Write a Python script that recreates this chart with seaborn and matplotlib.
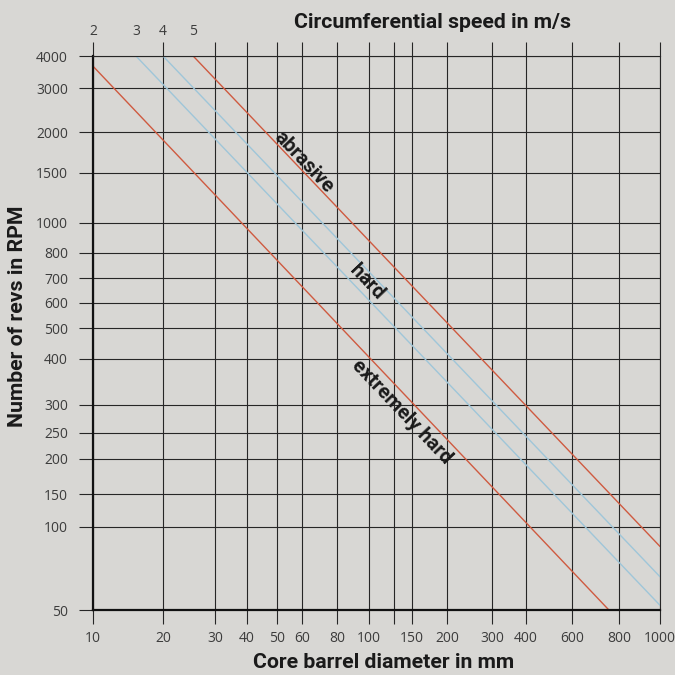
import numpy as np
import pandas as pd
import matplotlib
matplotlib.use('Agg')
import matplotlib.pyplot as plt
import seaborn as sns

# grid values and the printed positions of the grid lines (px in the 675px chart)
x_ticks = [10, 20, 30, 40, 50, 60, 80, 100, 125, 150, 200, 300, 400, 600, 800, 1000]
x_tick_labels = ['10', '20', '30', '40', '50', '60', '80', '100', '', '150', '200',
                 '300', '400', '600', '800', '1000']
x_tick_px = [93, 163, 215, 247, 277, 302, 337, 369, 394, 412, 447, 492, 526, 572, 619, 660]

y_ticks = [50, 100, 150, 200, 250, 300, 400, 500, 600, 700, 800, 1000, 1500, 2000, 3000, 4000]
y_tick_labels = [str(v) for v in y_ticks]
y_tick_px = [610, 527, 494, 459, 433, 405, 359, 328, 303, 278, 253, 223, 173, 132, 88, 56]

# circumferential speed lines (m/s): start and end points
speeds = [2, 3, 4, 5]
d_start = [10, 15.3, 20, 25.3]
rpm_start = [3650, 4000, 4000, 4000]
d_end = [752, 1000, 1000, 1000]
rpm_end = [50, 52, 66, 85]
line_colors = ['#cf5a40', '#9fc6d9', '#9fc6d9', '#cf5a40']

zones = ['abrasive', 'hard', 'extremely hard']

bg = '#d8d7d4'
grid_col = '#262626'


def chart_scale(ticks, pos):
    # piecewise log scale that follows the printed grid
    lt = np.log10(np.asarray(ticks, float))
    pos = np.asarray(pos, float)
    s0 = (pos[1] - pos[0]) / (lt[1] - lt[0])
    s1 = (pos[-1] - pos[-2]) / (lt[-1] - lt[-2])
    lt = np.r_[lt[0] - 10, lt, lt[-1] + 10]
    pos = np.r_[pos[0] - 10 * s0, pos, pos[-1] + 10 * s1]

    def fwd(v):
        return np.interp(np.log10(np.clip(np.asarray(v, float), 1e-9, None)), lt, pos)

    def inv(p):
        return 10 ** np.interp(np.asarray(p, float), pos, lt)
    return fwd, inv


df = pd.DataFrame({
    'diameter': d_start + d_end,
    'rpm': rpm_start + rpm_end,
    'speed': speeds + speeds,
})

sns.set_theme(style='ticks')
plt.rcParams['font.family'] = ['Open Sans', 'DejaVu Sans']

fig = plt.figure(figsize=(6.75, 6.75), dpi=100)
fig.patch.set_facecolor(bg)
ax = fig.add_axes([93 / 675, 65 / 675, 567 / 675, 554 / 675])
ax.set_facecolor(bg)

ax.set_xscale('function', functions=chart_scale(x_ticks, x_tick_px))
ax.set_yscale('function', functions=chart_scale(y_ticks, [610 - p for p in y_tick_px]))

sns.lineplot(data=df, x='diameter', y='rpm', hue='speed', palette=dict(zip(speeds, line_colors)),
             estimator=None, sort=False, legend=False, linewidth=1.0, ax=ax)

ax.set_xlim(10, 1000)
ax.set_ylim(50, 4000)
ax.set_xticks(x_ticks, x_tick_labels)
ax.set_yticks(y_ticks, y_tick_labels)
ax.minorticks_off()
ax.set_axisbelow(True)
ax.grid(True, color=grid_col, linewidth=0.8)

ax.tick_params(axis='x', top=True, bottom=True, labeltop=False, length=10, width=0.8,
               color=grid_col, labelsize=10, labelcolor='#3c3c3c', pad=5)
ax.tick_params(axis='y', left=True, right=False, length=10, width=0.8,
               color=grid_col, labelsize=10, labelcolor='#3c3c3c', pad=8)

for side in ['left', 'bottom']:
    ax.spines[side].set_linewidth(1.6)
    ax.spines[side].set_color('#111111')
for side in ['top', 'right']:
    ax.spines[side].set_linewidth(0.8)
    ax.spines[side].set_color(grid_col)

ax.set_xlabel('')
ax.set_ylabel('')

bold = dict(family=['Roboto', 'DejaVu Sans'], weight='bold', color='#1a1a1a')
fig.text(432 / 675, 1 - 23 / 675, 'Circumferential speed in m/s', ha='center', va='center',
         fontsize=15.3, **bold)
fig.text(384 / 675, 1 - 663 / 675, 'Core barrel diameter in mm', ha='center', va='center',
         fontsize=15.3, **bold)
fig.text(18 / 675, 1 - 316 / 675, 'Number of revs in RPM', ha='center', va='center',
         rotation=90, fontsize=15.3, **bold)

# speed labels above the start of each line
for d0, v in zip(d_start, speeds):
    ax.text(d0, 1.045, str(v), transform=ax.get_xaxis_transform(), ha='center', va='center',
            fontsize=10, color='#3c3c3c')

zone_pos = [(0.372, 0.808), (0.483, 0.592), (0.544, 0.357)]
for name, (px, py) in zip(zones, zone_pos):
    ax.text(px, py, name, transform=ax.transAxes, ha='center', va='center',
            rotation=-46.4, rotation_mode='anchor', fontsize=14.5, **bold)

plt.savefig('out.png', dpi=100, facecolor=bg)
